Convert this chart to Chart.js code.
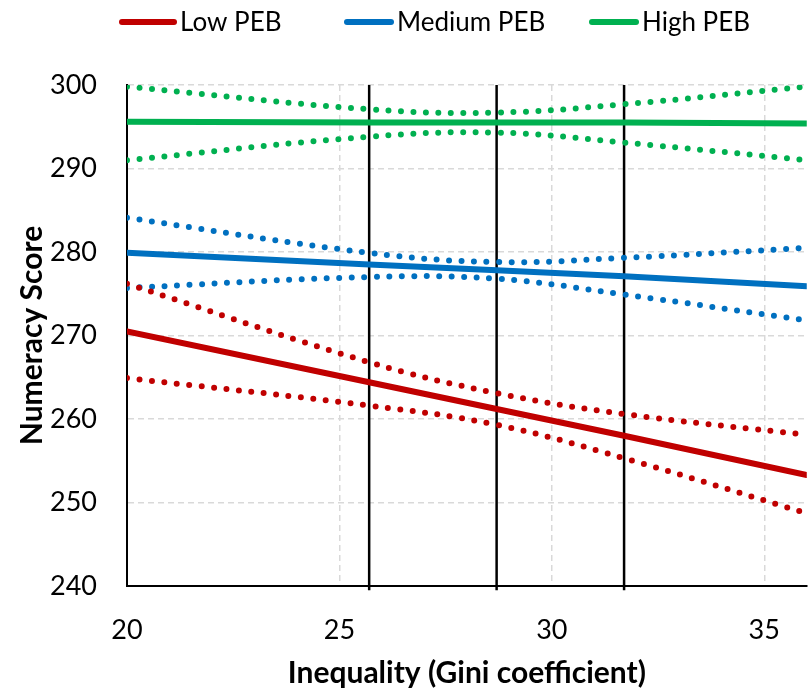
<!DOCTYPE html>
<html>
<head>
<meta charset="utf-8">
<script src="https://cdn.jsdelivr.net/npm/chart.js@4.4.0/dist/chart.umd.min.js"></script>
<style>
  html, body { margin: 0; padding: 0; background: #fff; }
</style>
</head>
<body>
<canvas id="chart" width="808" height="691"></canvas>
<script>
const gini = [20, 25.7, 28.7, 31.7, 36];
const xTicks = [20, 25, 30, 35];

// fitted lines
const lowPEB = [270.5, 264.4, 261.2, 258.0, 253.3];
const medPEB = [279.9, 278.5, 277.8, 277.1, 275.9];
const highPEB = [295.6, 295.5, 295.5, 295.5, 295.4];

// confidence bands
const lowUpper = [276.2, 266.8, 263.1, 260.6, 258.1];
const lowLower = [264.9, 261.6, 259.3, 255.3, 248.7];
const medUpper = [284.1, 279.9, 278.8, 279.3, 280.5];
const medLower = [275.7, 277.0, 276.8, 274.9, 271.8];
const highUpper = [299.8, 297.1, 296.7, 297.7, 299.8];
const highLower = [291.0, 293.8, 294.3, 293.1, 291.0];

// vertical reference lines
const refGini = [25.7, 28.7, 31.7];

const seriesNames = ['Low PEB', 'Medium PEB', 'High PEB'];
const colors = ['#C00000', '#0070C0', '#00B050'];

const FONT = 'Lato, "Open Sans", sans-serif';

function pts(ys) {
    return gini.map((x, i) => ({ x: x, y: ys[i] }));
}

function solid(label, ys, color) {
    return {
        label: label,
        data: pts(ys),
        borderColor: color,
        backgroundColor: color,
        borderWidth: 6,
        borderCapStyle: 'round',
        pointRadius: 0,
        tension: 0,
        order: 1
    };
}

function dotted(ys, color) {
    return {
        label: '',
        data: pts(ys),
        borderColor: color,
        backgroundColor: color,
        borderWidth: 6,
        borderDash: [0, 12.5],
        borderCapStyle: 'round',
        pointRadius: 0,
        cubicInterpolationMode: 'default',
        tension: 0.4,
        order: 2
    };
}

const datasets = [
    solid(seriesNames[0], lowPEB, colors[0]),
    solid(seriesNames[1], medPEB, colors[1]),
    solid(seriesNames[2], highPEB, colors[2]),
    dotted(lowUpper, colors[0]),
    dotted(lowLower, colors[0]),
    dotted(medUpper, colors[1]),
    dotted(medLower, colors[1]),
    dotted(highUpper, colors[2]),
    dotted(highLower, colors[2])
];

refGini.forEach(g => {
    datasets.push({
        label: '',
        data: [{ x: g, y: 239.5 }, { x: g, y: 300 }],
        borderColor: '#000',
        borderWidth: 2.5,
        pointRadius: 0,
        order: 5,
        clip: false
    });
});

// simple legend drawn at the top, only for the three fitted lines
const legendLines = {
    id: 'legendLines',
    afterDraw(chart) {
        const ctx = chart.ctx;
        const starts = [122, 347, 592];
        const lens = [52, 44, 44];
        ctx.save();
        ctx.font = '26px ' + FONT;
        ctx.textBaseline = 'middle';
        for (let i = 0; i < 3; i++) {
            const ds = chart.data.datasets[i];
            ctx.strokeStyle = ds.borderColor;
            ctx.lineWidth = 6;
            ctx.lineCap = 'round';
            ctx.beginPath();
            ctx.moveTo(starts[i], 22);
            ctx.lineTo(starts[i] + lens[i], 22);
            ctx.stroke();
            ctx.fillStyle = '#000';
            ctx.fillText(ds.label, starts[i] + lens[i] + 6, 23);
        }
        ctx.restore();
    }
};

new Chart(document.getElementById('chart'), {
    type: 'line',
    data: { datasets: datasets },
    plugins: [legendLines],
    options: {
        responsive: false,
        animation: false,
        layout: { padding: { top: 85, right: 1, left: 0, bottom: 0 } },
        plugins: {
            legend: { display: false },
            tooltip: { enabled: false }
        },
        scales: {
            x: {
                type: 'linear',
                min: 20,
                max: 36,
                afterBuildTicks: scale => {
                    scale.ticks = xTicks.map(v => ({ value: v }));
                },
                afterFit: scale => { scale.height = 105; },
                ticks: {
                    padding: 28,
                    color: '#000',
                    font: { family: FONT, size: 27 }
                },
                grid: {
                    color: '#d9d9d9',
                    lineWidth: 1.5,
                    drawTicks: false
                },
                border: { color: '#000', width: 2, dash: [6, 4] },
                title: {
                    display: true,
                    text: 'Inequality (Gini coefficient)',
                    color: '#000',
                    font: { family: FONT, size: 30, weight: 'bold' },
                    padding: { top: 0, bottom: 0 }
                }
            },
            y: {
                min: 240,
                max: 300,
                afterFit: scale => { scale.width = 127; },
                ticks: {
                    stepSize: 10,
                    padding: 30,
                    color: '#000',
                    font: { family: FONT, size: 27 }
                },
                grid: {
                    color: '#d9d9d9',
                    lineWidth: 1.5,
                    drawTicks: false
                },
                border: { color: '#000', width: 2, dash: [6, 4] },
                title: {
                    display: true,
                    text: 'Numeracy Score',
                    color: '#000',
                    font: { family: FONT, size: 30, weight: 'bold' },
                    padding: { top: 14, bottom: 0 }
                }
            }
        }
    }
});
</script>
</body>
</html>
